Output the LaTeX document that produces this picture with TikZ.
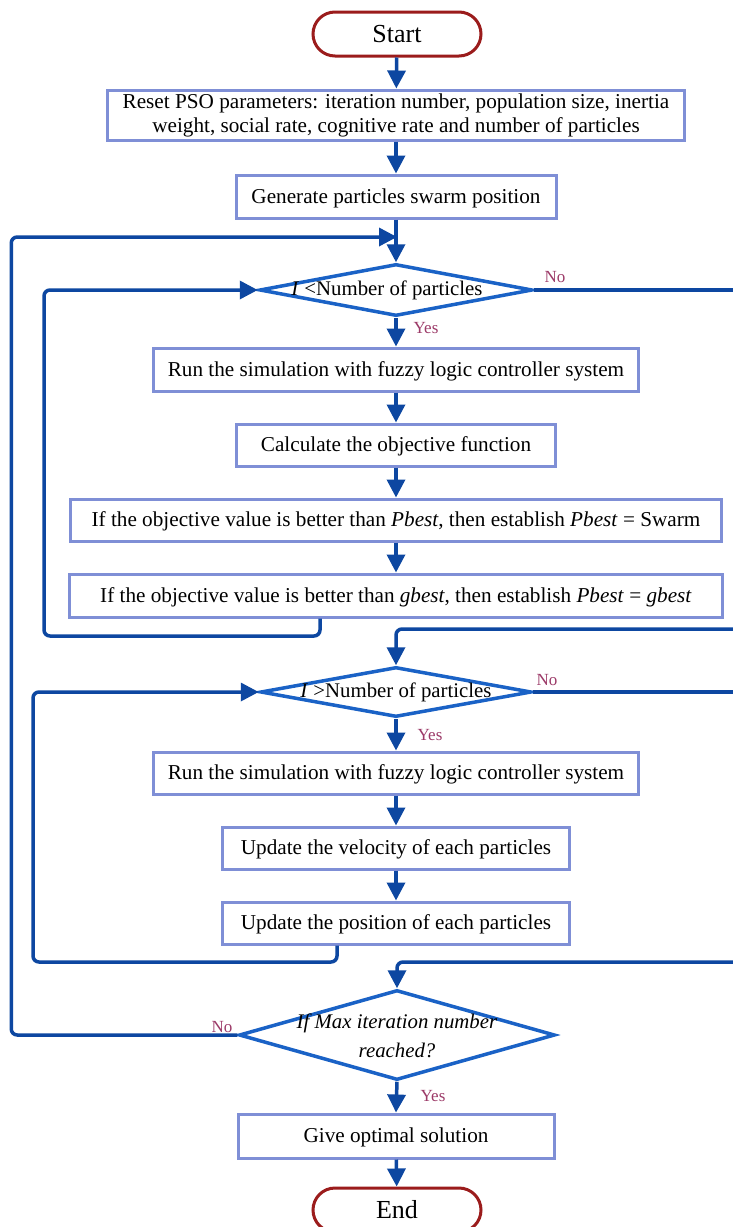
\documentclass[tikz,border=0pt]{standalone}
\usepackage{fontspec}
\setmainfont{Liberation Serif}
\usetikzlibrary{shapes.geometric,arrows.meta}
\definecolor{termc}{HTML}{9B1C1C}
\definecolor{boxc}{HTML}{7F8FD6}
\definecolor{decc}{HTML}{1A62C6}
\definecolor{arrc}{HTML}{0D47A1}
\definecolor{labc}{HTML}{9C3A68}
\begin{document}
\begin{tikzpicture}[x=1pt,y=-1pt,
  proc/.style={draw=boxc, line width=3pt, fill=white, rectangle, inner sep=0pt, align=center, font=\fontsize{21.2}{24}\selectfont},
  proc1/.style={proc, text height=17pt, text depth=4pt},
  term/.style={draw=termc, line width=3pt, fill=white, rounded corners=22pt, minimum width=168pt, minimum height=44pt, inner sep=0pt, text height=21pt, text depth=4pt, font=\fontsize{26}{30}\selectfont},
  dec/.style={diamond, draw=decc, line width=3.5pt, fill=white, inner sep=0pt},
  dtext/.style={align=center, inner sep=0pt, font=\fontsize{20.8}{29}\selectfont},
  conn/.style={draw=arrc, line width=3.5pt, rounded corners=6pt},
  arr/.style={conn, -{Triangle[length=18pt,width=18pt]}},
  lab/.style={text=labc, inner sep=0pt, font=\fontsize{17}{20}\selectfont}]
\useasboundingbox[fill=white] (0,0) rectangle (732,1227);
% nodes
\node[term] (start) at (397,34) {Start};
\node[proc, minimum width=577pt, minimum height=50pt] (b1) at (396,115) {Reset PSO parameters: iteration number, population size, inertia\\weight, social rate, cognitive rate and number of particles};
\node[proc1, minimum width=320pt, minimum height=43pt] (b2) at (396,196.5) {Generate particles swarm position};
\node[dec, minimum width=273pt, minimum height=52pt] (d1) at (396,290) {};
\node[dtext] (d1t) at (387,290) {\textit{I} <Number of particles};
\node[proc1, minimum width=485pt, minimum height=43pt] (b3) at (396,369.5) {Run the simulation with fuzzy logic controller system};
\node[proc1, minimum width=319pt, minimum height=42pt] (b4) at (396,445) {Calculate the objective function};
\node[proc1, minimum width=651pt, minimum height=42pt] (b5) at (396,520) {If the objective value is better than \textit{Pbest}, then establish \textit{Pbest} = Swarm};
\node[proc1, minimum width=653pt, minimum height=43pt] (b6) at (396,595.5) {If the objective value is better than \textit{gbest}, then establish \textit{Pbest} = \textit{gbest}};
\node[dec, minimum width=271pt, minimum height=50pt] (d2) at (396,692) {};
\node[dtext] (d2t) at (396,692) {\textit{I} >Number of particles};
\node[proc1, minimum width=485pt, minimum height=42pt] (b7) at (396,773) {Run the simulation with fuzzy logic controller system};
\node[proc1, minimum width=347pt, minimum height=42pt] (b8) at (396,848) {Update the velocity of each particles};
\node[proc1, minimum width=347pt, minimum height=42pt] (b9) at (396,923) {Update the position of each particles};
\node[dec, minimum width=316pt, minimum height=90pt] (d3) at (397,1035) {};
\node[dtext] (d3t) at (397,1036) {\textit{If Max iteration number}\\\textit{reached?}};
\node[proc1, minimum width=316pt, minimum height=44pt] (b10) at (396,1136) {Give optimal solution};
\node[term] (end) at (397,1210) {End};
% coordinates
\coordinate (j1) at (397,237);
\coordinate (r1) at (745,290);
\coordinate (r2) at (745,629);
\coordinate (r3) at (745,692);
\coordinate (r4) at (745,962);
% connectors
\draw[arr] (start) -- (b1);
\draw[arr] (b1) -- (b2);
\draw[arr] (b2.south) -- (d1.north);
\draw[arr] (d3.west) -- ++(-226,0) |- (j1);
\draw[conn] (d1.east) -- (r1);
\draw[arr] (d1.south) -- (b3.north);
\draw[arr] (b3) -- (b4);
\draw[arr] (b4) -- (b5);
\draw[arr] (b5) -- (b6);
\draw[arr] ([xshift=-76pt]b6.south) |- (44,636) |- (d1.west);
\draw[arr] (r2) -| (d2.north);
\draw[conn] (d2.east) -- (r3);
\draw[arr] (d2.south) -- (b7.north);
\draw[arr] (b7) -- (b8);
\draw[arr] (b8) -- (b9);
\draw[arr] ([xshift=-59pt]b9.south) |- (33,962) |- (d2.west);
\draw[arr] (r4) -| (d3.north);
\draw[arr] (d3.south) -- (b10.north);
\draw[arr] (b10) -- (end);
% labels
\node[lab] (no1) at (555,277) {No};
\node[lab] (yes1) at (426,328) {Yes};
\node[lab] (no2) at (547,680) {No};
\node[lab] (yes2) at (430,735) {Yes};
\node[lab] (no3) at (222,1027) {No};
\node[lab] (yes3) at (433,1096) {Yes};
\end{tikzpicture}
\end{document}
